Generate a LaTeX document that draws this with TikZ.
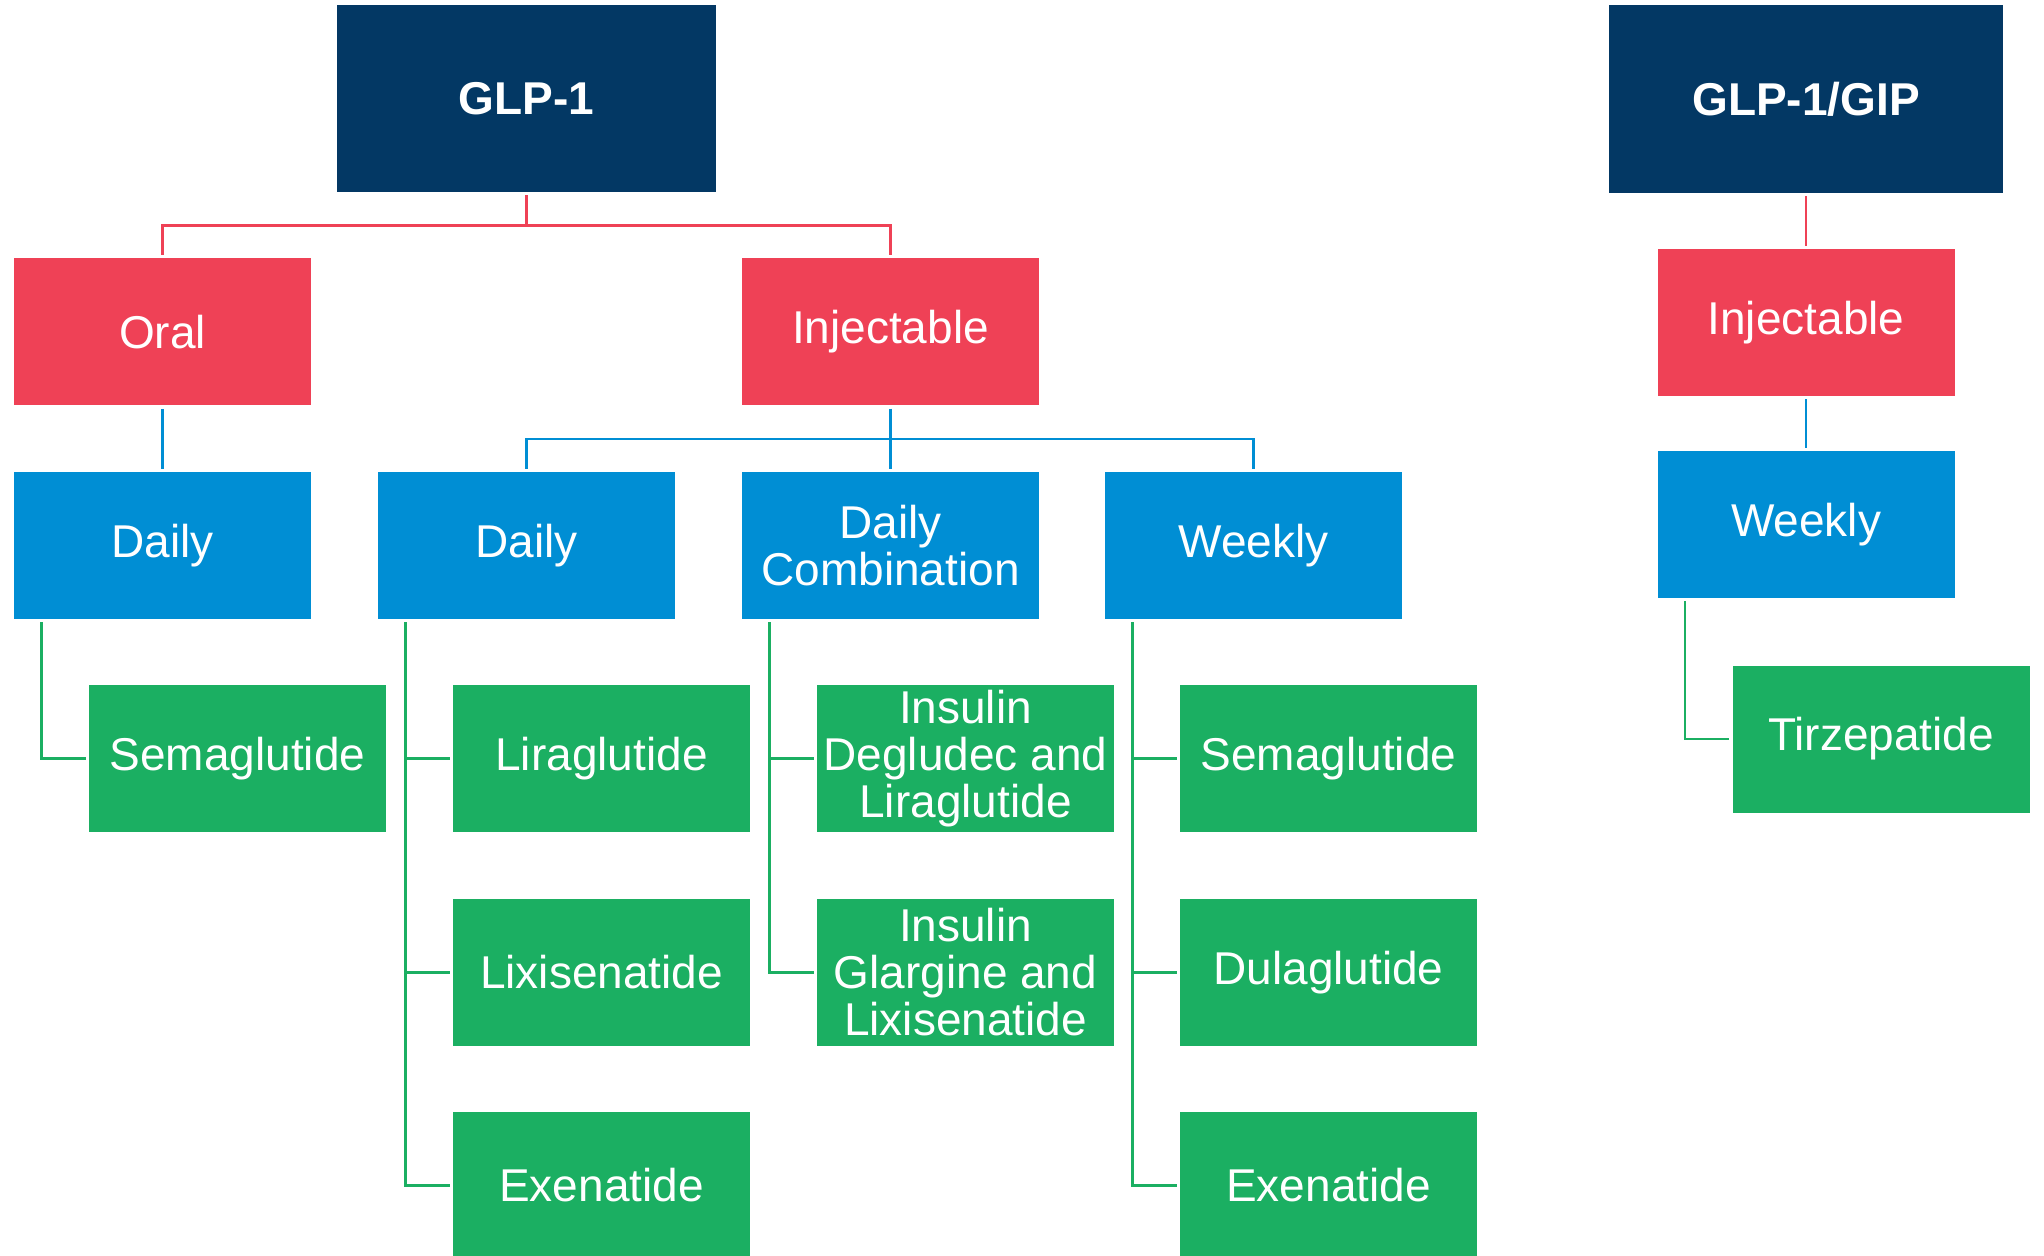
\documentclass[tikz,border=0pt]{standalone}
\usepackage{fontspec}
\setmainfont{Liberation Sans}
\definecolor{navy}{RGB}{3,56,100}
\definecolor{cred}{RGB}{239,65,86}
\definecolor{cblue}{RGB}{0,142,212}
\definecolor{cgreen}{RGB}{27,175,98}
\begin{document}
\begin{tikzpicture}[x=0.5pt,y=-0.5pt,
  box/.style={minimum width=148.5pt,minimum height=73.5pt,inner sep=0pt,text=white,align=center,
    font=\fontsize{23}{23.5}\selectfont},
  topbox/.style={box,fill=navy,font=\fontsize{23}{23.5}\selectfont\bfseries},
  redbox/.style={box,fill=cred},
  bluebox/.style={box,fill=cblue},
  greenbox/.style={box,fill=cgreen},
  conn/.style={line width=1.25pt,shorten <=1.5pt,shorten >=1.5pt},
  rline/.style={conn,draw=cred},
  bline/.style={conn,draw=cblue},
  gline/.style={conn,draw=cgreen}]
\useasboundingbox (0,0) rectangle (2044,1256);
\begin{scope}
\clip (0,0) rectangle (2044,1256);
% top level
\node[topbox,minimum width=189.5pt,minimum height=93.5pt] (glp) at (526.5,98.5) {GLP-1};
\node[topbox,minimum width=197pt,minimum height=94pt] (gip) at (1806,99) {GLP-1/GIP};
% second level
\node[redbox] (oral) at (162.5,332) {Oral};
\node[redbox] (inj) at (890.5,332) {Injectable};
\node[redbox] (injr) at (1806,322.5) {Injectable};
% third level
\node[bluebox] (dailyo) at (162.5,545.5) {Daily};
\node[bluebox] (daily) at (526.5,545.5) {Daily};
\node[bluebox] (comb) at (890.5,545.5) {Daily\\Combination};
\node[bluebox] (weekly) at (1253.5,545.5) {Weekly};
\node[bluebox] (weeklyr) at (1806,524.5) {Weekly};
% leaves
\node[greenbox] (sema1) at (237.5,758.5) {Semaglutide};
\node[greenbox] (lira) at (601.5,758.5) {Liraglutide};
\node[greenbox] (lixi) at (601.5,972.5) {Lixisenatide};
\node[greenbox] (exe1) at (601.5,1185.5) {Exenatide};
\node[greenbox] (ideg) at (965.5,758.5) {Insulin\\Degludec and\\Liraglutide};
\node[greenbox] (igla) at (965.5,972.5) {Insulin\\Glargine and\\Lixisenatide};
\node[greenbox] (sema2) at (1328.5,758.5) {Semaglutide};
\node[greenbox] (dula) at (1328.5,972.5) {Dulaglutide};
\node[greenbox] (exe2) at (1328.5,1185.5) {Exenatide};
\node[greenbox] (tirz) at (1881,739) {Tirzepatide};
% connectors
\draw[rline] (glp.south) -- ++(0,33) -| (oral.north);
\draw[rline] (glp.south) -- ++(0,33) -| (inj.north);
\draw[rline] (gip.south) -- (injr.north);
\draw[bline] (oral.south) -- (dailyo.north);
\draw[bline] (inj.south) -- ++(0,33) -| (daily.north);
\draw[bline] (inj.south) -- ++(0,33) -| (comb.north);
\draw[bline] (inj.south) -- ++(0,33) -| (weekly.north);
\draw[bline] (injr.south) -- (weeklyr.north);
\draw[gline] ([xshift=14pt]dailyo.south west) |- (sema1.west);
\draw[gline] ([xshift=14pt]daily.south west) |- (lira.west);
\draw[gline] ([xshift=14pt]daily.south west) |- (lixi.west);
\draw[gline] ([xshift=14pt]daily.south west) |- (exe1.west);
\draw[gline] ([xshift=14pt]comb.south west) |- (ideg.west);
\draw[gline] ([xshift=14pt]comb.south west) |- (igla.west);
\draw[gline] ([xshift=14pt]weekly.south west) |- (sema2.west);
\draw[gline] ([xshift=14pt]weekly.south west) |- (dula.west);
\draw[gline] ([xshift=14pt]weekly.south west) |- (exe2.west);
\draw[gline] ([xshift=14pt]weeklyr.south west) |- (tirz.west);
\end{scope}
\end{tikzpicture}
\end{document}
